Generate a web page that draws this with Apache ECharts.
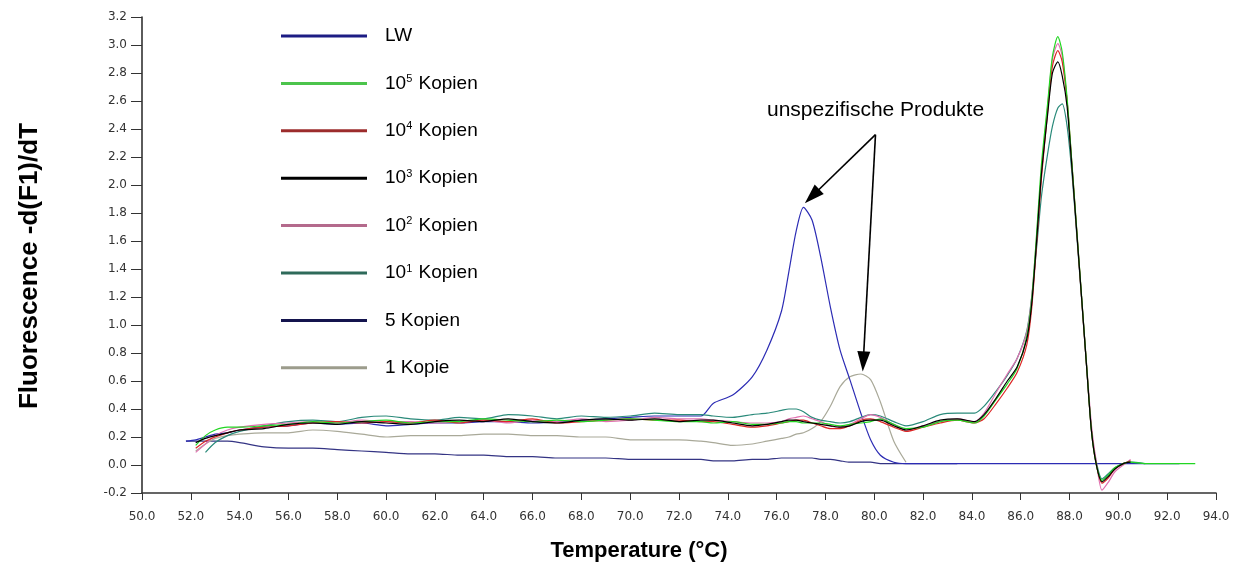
<!DOCTYPE html>
<html>
<head>
<meta charset="utf-8">
<title>Schmelzkurven</title>
<script src="https://cdn.jsdelivr.net/npm/echarts@6/dist/echarts.min.js"></script>
<style>
html, body { margin: 0; padding: 0; background: #fff; }
#chart { width: 1238px; height: 579px; }
</style>
</head>
<body>
<div id="chart"></div>
<script>
// Temperatur-Raster (°C), gilt für alle Kurven
const temps = [
  51.8, 52.2, 52.6, 53, 53.5, 54, 55, 56, 57, 58, 59, 60,
  61, 62, 63, 64, 65, 66, 67, 68, 69, 70, 71, 72,
  72.9, 73.4, 74.2, 75, 75.6, 76.2, 76.5, 76.8, 77.1, 77.45, 77.8, 78.2, 78.6, 79, 79.45, 79.85, 80.25, 80.8, 81.3,
  82, 82.7, 83.4, 84.1, 84.5, 85, 85.45, 85.85, 86.25, 86.45, 86.65, 86.85, 87.1, 87.3, 87.52,
  87.7, 87.9, 88.1, 88.3, 88.5, 88.7, 88.9, 89.1, 89.33, 89.6, 89.85, 90.2, 90.5, 91.1, 92.5, 93.15
]

// -d(F1)/dT Werte je Probe (null = keine Messung)
const lw = [
  0.17, 0.18, 0.20, 0.22, 0.23, 0.25, 0.27, 0.28, 0.30, 0.29, 0.30, 0.28,
  0.29, 0.30, 0.30, 0.31, 0.31, 0.30, 0.31, 0.32, 0.33, 0.34, 0.35, 0.35,
  0.35, 0.44, 0.50, 0.63, 0.82, 1.10, 1.38, 1.67, 1.84, 1.75, 1.49, 1.13, 0.82, 0.61, 0.37, 0.18, 0.07, 0.02, 0.01,
  0.01, 0.01, 0.01, 0.01, 0.01, 0.01, 0.01, 0.01, 0.01, 0.01, 0.01, 0.01, 0.01, 0.01, 0.01,
  0.01, 0.01, 0.01, 0.01, 0.01, 0.01, 0.01, 0.01, 0.01, 0.01, 0.01, 0.01, 0.01, 0.01, 0.01, null
]
const k1e5 = [
  null, 0.14, 0.21, 0.25, 0.27, 0.27, 0.28, 0.29, 0.31, 0.30, 0.31, 0.32,
  0.30, 0.31, 0.31, 0.33, 0.32, 0.31, 0.32, 0.31, 0.32, 0.33, 0.32, 0.31,
  0.31, 0.30, 0.31, 0.29, 0.29, 0.30, 0.31, 0.31, 0.30, 0.30, 0.30, 0.29, 0.28, 0.29, 0.30, 0.31, 0.33, 0.29, 0.26,
  0.27, 0.31, 0.32, 0.30, 0.35, 0.47, 0.58, 0.69, 0.92, 1.18, 1.65, 2.15, 2.58, 2.92, 3.06,
  2.95, 2.62, 2.15, 1.67, 1.19, 0.71, 0.24, 0.00, -0.11, -0.07, -0.02, 0.01, 0.02, 0.01, 0.01, 0.01
]
const k1e4 = [
  null, 0.12, 0.17, 0.20, 0.23, 0.25, 0.27, 0.28, 0.30, 0.31, 0.30, 0.31,
  0.30, 0.32, 0.30, 0.32, 0.31, 0.33, 0.30, 0.31, 0.32, 0.33, 0.32, 0.32,
  0.31, 0.31, 0.29, 0.27, 0.28, 0.30, 0.31, 0.32, 0.32, 0.30, 0.28, 0.26, 0.26, 0.28, 0.32, 0.33, 0.31, 0.27, 0.24,
  0.27, 0.30, 0.32, 0.30, 0.33, 0.44, 0.55, 0.66, 0.86, 1.12, 1.58, 2.05, 2.52, 2.85, 2.96,
  2.88, 2.60, 2.14, 1.66, 1.18, 0.70, 0.24, 0.00, -0.13, -0.09, -0.03, 0.01, 0.03, null, null, null
]
const k1e3 = [
  null, 0.16, 0.19, 0.21, 0.23, 0.25, 0.26, 0.29, 0.30, 0.29, 0.31, 0.30,
  0.29, 0.31, 0.32, 0.31, 0.33, 0.31, 0.30, 0.32, 0.33, 0.32, 0.33, 0.31,
  0.32, 0.32, 0.30, 0.28, 0.29, 0.31, 0.32, 0.32, 0.31, 0.30, 0.29, 0.28, 0.27, 0.28, 0.31, 0.32, 0.32, 0.28, 0.25,
  0.28, 0.32, 0.33, 0.31, 0.36, 0.48, 0.60, 0.70, 0.90, 1.15, 1.60, 2.08, 2.50, 2.80, 2.88,
  2.78, 2.56, 2.12, 1.65, 1.18, 0.70, 0.24, 0.00, -0.12, -0.08, -0.03, 0.01, 0.02, null, null, null
]
const k1e2 = [
  null, 0.09, 0.15, 0.21, 0.25, 0.27, 0.29, 0.30, 0.31, 0.30, 0.32, 0.31,
  0.31, 0.30, 0.31, 0.32, 0.30, 0.32, 0.31, 0.33, 0.31, 0.32, 0.34, 0.33,
  0.33, 0.32, 0.31, 0.30, 0.30, 0.31, 0.33, 0.34, 0.35, 0.33, 0.31, 0.28, 0.27, 0.29, 0.33, 0.36, 0.34, 0.29, 0.25,
  0.28, 0.31, 0.33, 0.31, 0.37, 0.52, 0.65, 0.76, 0.95, 1.20, 1.63, 2.10, 2.55, 2.90, 3.01,
  2.92, 2.60, 2.14, 1.66, 1.18, 0.72, 0.28, 0.02, -0.18, -0.12, -0.05, 0.00, 0.04, null, null, null
]
const k1e1 = [
  null, null, 0.09, 0.16, 0.21, 0.24, 0.28, 0.31, 0.32, 0.31, 0.34, 0.35,
  0.33, 0.32, 0.34, 0.33, 0.36, 0.35, 0.33, 0.35, 0.34, 0.35, 0.37, 0.36,
  0.36, 0.35, 0.34, 0.36, 0.37, 0.39, 0.40, 0.40, 0.38, 0.34, 0.32, 0.31, 0.30, 0.31, 0.34, 0.36, 0.35, 0.31, 0.28,
  0.31, 0.36, 0.37, 0.37, 0.42, 0.53, 0.64, 0.76, 0.96, 1.20, 1.55, 1.92, 2.22, 2.42, 2.55,
  2.58, 2.42, 2.08, 1.63, 1.17, 0.70, 0.25, 0.02, -0.10, -0.06, -0.02, 0.01, 0.02, 0.01, null, null
]
const k5 = [
  0.17, 0.17, 0.17, 0.17, 0.17, 0.16, 0.13, 0.12, 0.12, 0.11, 0.10, 0.09,
  0.08, 0.08, 0.07, 0.07, 0.06, 0.06, 0.05, 0.05, 0.05, 0.04, 0.04, 0.04,
  0.04, 0.03, 0.03, 0.04, 0.04, 0.05, 0.05, 0.05, 0.05, 0.05, 0.04, 0.04, 0.03, 0.02, 0.02, 0.02, 0.01, 0.01, 0.01,
  0.01, 0.01, 0.01, null, null, null, null, null, null, null, null, null, null, null, null,
  null, null, null, null, null, null, null, null, null, null, null, null, null, null, null, null
]
const k1 = [
  null, 0.10, 0.15, 0.19, 0.21, 0.22, 0.23, 0.23, 0.25, 0.24, 0.22, 0.20,
  0.21, 0.21, 0.21, 0.22, 0.22, 0.21, 0.21, 0.20, 0.20, 0.18, 0.18, 0.18,
  0.17, 0.16, 0.14, 0.15, 0.17, 0.19, 0.20, 0.22, 0.23, 0.26, 0.31, 0.42, 0.56, 0.63, 0.65, 0.61, 0.45, 0.17, 0.02,
  null, null, null, null, null, null, null, null, null, null, null, null, null, null, null,
  null, null, null, null, null, null, null, null, null, null, null, null, null, null, null, null
]

const seriesNames = ['LW', '10^5 Kopien', '10^4 Kopien', '10^3 Kopien', '10^2 Kopien', '10^1 Kopien', '5 Kopien', '1 Kopie']
const seriesValues = [lw, k1e5, k1e4, k1e3, k1e2, k1e1, k5, k1]
const lineColors = ['#2c2cb4', '#22d622', '#dc2626', '#000000', '#e070b0', '#2a8a7a', '#343484', '#a9a999']
const legendColors = ['#1c1c84', '#4cc44c', '#9c2c2c', '#000000', '#b46a8c', '#2e6a5a', '#14144e', '#9c9c8c']
// zeichenreihenfolge (unten -> oben)
const drawOrder = [6, 7, 0, 5, 4, 2, 1, 3]

// Pfeile "unspezifische Produkte" (Start, Ziel in Datenkoordinaten)
const arrowStart = [80.05, 2.36]
const arrowTargets = [[77.45, 1.92], [79.55, 0.74]]

const chart = echarts.init(document.getElementById('chart'))

const series = drawOrder.map((idx) => {
  const vals = seriesValues[idx]
  const s = {
    type: 'line',
    name: seriesNames[idx],
    data: temps.map((t, i) => [t, vals[i]]).filter((p) => p[1] !== null),
    showSymbol: false,
    smooth: 0.25,
    z: 2 + drawOrder.indexOf(idx),
    lineStyle: { width: 1.2, color: lineColors[idx] },
    itemStyle: { color: lineColors[idx] },
    animation: false
  }
  if (idx === 0) {
    s.markLine = {
      silent: true,
      animation: false,
      symbol: ['none', 'triangle'],
      symbolSize: [13, 20],
      label: { show: false },
      lineStyle: { color: '#000', width: 1.6, type: 'solid' },
      data: arrowTargets.map((t) => [{ coord: arrowStart }, { coord: t }])
    }
  }
  return s
})

chart.setOption({
  backgroundColor: '#fff',
  textStyle: { fontFamily: 'Liberation Sans, Arial, sans-serif' },
  grid: { left: 142, right: 22, top: 17, bottom: 86 },
  legend: {
    orient: 'vertical',
    left: 281,
    top: 25,
    padding: 0,
    icon: 'rect',
    itemWidth: 86,
    itemHeight: 3,
    itemGap: 25.4,
    selectedMode: false,
    data: seriesNames.map((n, i) => ({ name: n, itemStyle: { color: legendColors[i] } })),
    formatter: (name) => name.replace(/\^(\d)/, '{sup|$1}'),
    textStyle: {
      fontSize: 19,
      lineHeight: 22,
      color: '#000',
      padding: [0, 0, 0, 13],
      rich: {
        sup: { fontSize: 11, lineHeight: 22, verticalAlign: 'top', color: '#000', padding: [1, 1, 0, 0] }
      }
    }
  },
  xAxis: {
    type: 'value',
    min: 50,
    max: 94,
    interval: 2,
    axisLine: { onZero: false, lineStyle: { color: '#333', width: 1.6 } },
    axisTick: { length: 7, lineStyle: { color: '#333' } },
    axisLabel: {
      margin: 18,
      fontFamily: 'DejaVu Sans',
      fontSize: 12,
      color: '#333',
      formatter: (v) => v.toFixed(1)
    },
    splitLine: { show: false }
  },
  yAxis: {
    type: 'value',
    min: -0.2,
    max: 3.2,
    interval: 0.2,
    axisLine: { show: true, onZero: false, lineStyle: { color: '#333', width: 1.6 } },
    axisTick: { show: true, length: 11, lineStyle: { color: '#333' } },
    axisLabel: {
      margin: 15,
      fontFamily: 'DejaVu Sans',
      fontSize: 12,
      color: '#333',
      formatter: (v) => v.toFixed(1)
    },
    splitLine: { show: false }
  },
  graphic: [
    {
      type: 'text',
      left: 767,
      top: 100,
      style: { text: 'unspezifische Produkte', fontSize: 21, fontFamily: 'Liberation Sans', fill: '#000' }
    },
    {
      type: 'text',
      x: 30,
      y: 266,
      rotation: Math.PI / 2,
      style: {
        text: 'Fluorescence -d(F1)/dT',
        fontSize: 26,
        fontWeight: 'bold',
        fontFamily: 'Liberation Sans',
        fill: '#000',
        align: 'center',
        verticalAlign: 'middle'
      }
    },
    {
      type: 'text',
      x: 639,
      y: 551,
      style: {
        text: 'Temperature (°C)',
        fontSize: 22,
        fontWeight: 'bold',
        fontFamily: 'Liberation Sans',
        fill: '#000',
        align: 'center',
        verticalAlign: 'middle'
      }
    }
  ],
  series: series
})
</script>
</body>
</html>
